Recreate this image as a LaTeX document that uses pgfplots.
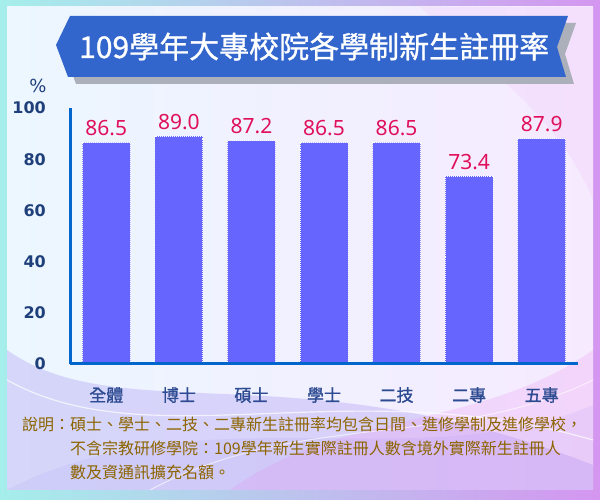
\documentclass[border=0pt]{standalone}
\usepackage{pgfplots}
\pgfplotsset{compat=1.18}
\usepackage{fontspec}
\setmainfont{Noto Sans CJK TC}
\newfontfamily\dejavu{DejaVu Sans}
\newfontfamily\latin{Noto Sans}
\newfontfamily\catfont[FakeBold=1.2]{Noto Sans CJK TC}
\newfontfamily\titlefont[FakeBold=1.0]{Noto Sans CJK TC}
\definecolor{barblue}{RGB}{102,102,255}
\definecolor{axisblue}{RGB}{0,102,204}
\definecolor{ribbon}{RGB}{51,102,204}
\definecolor{ribbonshadow}{RGB}{172,176,186}
\definecolor{valred}{RGB}{224,16,90}
\definecolor{ticknavy}{RGB}{31,63,122}
\definecolor{catnavy}{RGB}{45,75,145}
\definecolor{notebrown}{RGB}{140,100,0}
\definecolor{frameL}{RGB}{165,238,235}
\definecolor{frameR}{RGB}{212,150,240}
\definecolor{panelL}{RGB}{236,247,255}
\definecolor{panelR}{RGB}{246,234,255}
\definecolor{swirlA}{RGB}{160,140,240}
\definecolor{swirlB}{RGB}{235,150,240}
\begin{document}
\begin{tikzpicture}[x=1bp,y=1bp]
\path[use as bounding box] (0,0) rectangle (600,500);
% frame and panel
\shade[left color=frameL, right color=frameR] (0,0) rectangle (600,500);
\shade[left color=panelL, right color=panelR] (7,10) rectangle (593,493);
\begin{scope}
  \clip (7,10) rectangle (593,493);
  \fill[swirlA, opacity=0.30] (7,10) -- (7,150) .. controls (120,70) and (300,150) .. (593,35) -- (593,10) -- cycle;
  \fill[swirlB, opacity=0.25] (230,10) .. controls (340,90) and (480,70) .. (593,150) -- (593,10) -- cycle;
  \fill[swirlA, opacity=0.12] (7,10) .. controls (200,110) and (420,20) .. (593,95) -- (593,10) -- cycle;
  \draw[white, opacity=0.7, line width=1.2bp] (7,120) .. controls (150,40) and (350,130) .. (593,60);
  \draw[white, opacity=0.6, line width=1bp] (150,10) .. controls (300,90) and (450,50) .. (593,120);
  \fill[swirlB, opacity=0.12] (420,493) .. controls (500,420) and (560,380) .. (593,300) -- (593,493) -- cycle;
\end{scope}
% title ribbon
\fill[ribbonshadow] (78,477) -- (576,477) -- (565,446) -- (574,416) -- (76,416) -- (64,448) -- cycle;
\fill[ribbon] (70,484) -- (568,484) -- (557,453) -- (566,423) -- (68,423) -- (56,455) -- cycle;
\node[anchor=base west, inner sep=0pt, text=white, font=\titlefont\fontsize{30bp}{30bp}\selectfont]
  at (79,442) {109學年大專校院各學制新生註冊率};
% unit
\node[text=ticknavy, font=\dejavu\fontsize{18bp}{18bp}\selectfont] at (38,414) {\%};
\begin{axis}[
    at={(70bp,136bp)}, anchor=south west,
    scale only axis,
    width=508bp, height=256bp,
    xmin=-0.5, xmax=6.5,
    ymin=0, ymax=100,
    enlargelimits=false,
    axis x line*=bottom,
    axis y line*=left,
    axis line style={axisblue, line width=3bp},
    axis on top,
    clip=false,
    major tick length=0pt,
    ytick={0,20,40,60,80,100},
    xtick={0,1,2,3,4,5,6},
    xticklabels={全體,博士,碩士,學士,二技,二專,五專},
    /pgf/number format/assume math mode=true,
    yticklabel style={anchor=east, inner sep=0pt, xshift=-24bp, text=ticknavy,
      font=\dejavu\bfseries\fontsize{16bp}{16bp}\selectfont},
    xticklabel style={anchor=base, inner sep=0pt, yshift=-37.5bp, text=catnavy,
      font=\catfont\fontsize{17bp}{17bp}\selectfont},
    ybar,
    bar width=48bp,
    nodes near coords={\pgfmathprintnumber[fixed, fixed zerofill, precision=1, assume math mode=true]{\pgfplotspointmeta}},
    every node near coord/.append style={anchor=base, inner sep=0pt, yshift=7bp, text=valred,
      font=\latin\fontsize{21bp}{21bp}\selectfont},
  ]
  \addplot[fill=barblue, draw=white, line width=1bp, densely dotted]
  coordinates {
(0,86.5)
(1,89.0)
(2,87.2)
(3,86.5)
(4,86.5)
(5,73.4)
(6,87.9)
  };
\end{axis}
% note
\begin{scope}[every node/.style={anchor=base west, inner sep=0pt, text=notebrown,
    font=\fontsize{16bp}{16bp}\selectfont}]
  \node at (22,69) {說明：碩士、學士、二技、二專新生註冊率均包含日間、進修學制及進修學校，};
  \node at (70,45) {不含宗教研修學院：109學年新生實際註冊人數含境外實際新生註冊人};
  \node at (70,21) {數及資通訊擴充名額。};
\end{scope}
\end{tikzpicture}
\end{document}
